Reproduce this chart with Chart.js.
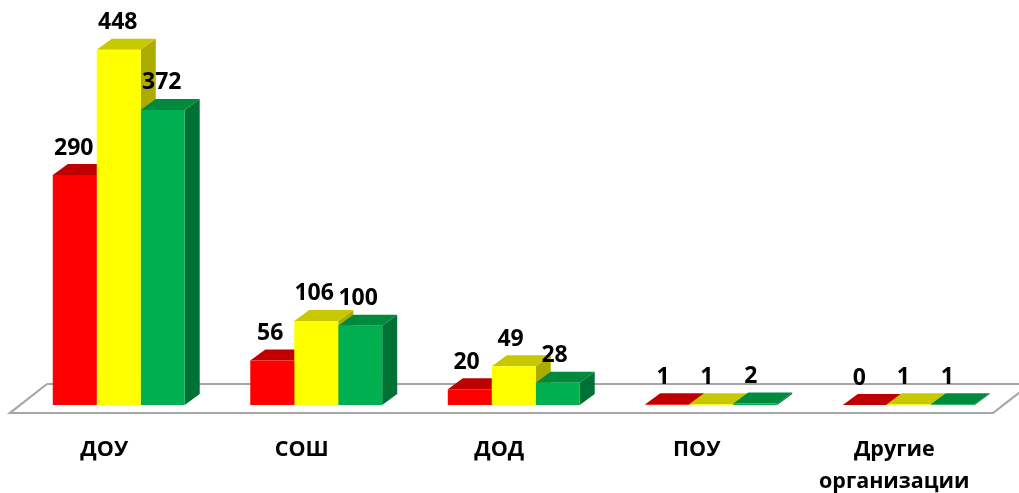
<!DOCTYPE html>
<html><head><meta charset="utf-8">
<style>html,body{margin:0;padding:0;background:#fff}#w{width:1019px;height:493px}</style>
<script src="https://cdn.jsdelivr.net/npm/chart.js@4"></script>
</head><body><div id="w"><canvas id="c"></canvas></div>
<script>
const categories = ['ДОУ','СОШ','ДОД','ПОУ',['Другие','организации']];
const seriesRed = [290,56,20,1,0];
const seriesYellow = [448,106,49,1,1];
const seriesGreen = [372,100,28,2,1];
const FONT = '"Open Sans", Lato, sans-serif';
const DX = 15, DY = 11;
const shades = [
 {front:'#FF0000', top:'#C00000', side:'#A00000'},
 {front:'#FFFF00', top:'#C8C800', side:'#ABAB00'},
 {front:'#00B050', top:'#008A3E', side:'#007134'}
];
function poly(ctx, pts, fill){
  ctx.beginPath(); pts.forEach((p,i)=> i?ctx.lineTo(p[0],p[1]):ctx.moveTo(p[0],p[1])); ctx.closePath();
  ctx.fillStyle = fill; ctx.fill();
}
const bars3d = {
  id:'bars3d',
  beforeDatasetsDraw(chart){
    const ctx = chart.ctx, a = chart.chartArea;
    ctx.save();
    ctx.strokeStyle = '#A6A6A6'; ctx.lineWidth = 2.2; ctx.lineJoin = 'miter';
    ctx.beginPath();
    ctx.moveTo(a.left+27, a.bottom-21);
    ctx.lineTo(a.left-10, a.bottom+8);
    ctx.lineTo(a.right-14.5, a.bottom+8);
    ctx.lineTo(a.right+23, a.bottom-21);
    ctx.lineTo(a.left+27, a.bottom-21);
    ctx.stroke();
    chart.data.datasets.forEach((ds,i)=>{
      const s = shades[i];
      chart.getDatasetMeta(i).data.forEach(b=>{
        const l = b.x-b.width/2, r = b.x+b.width/2, t = b.y, base = b.base;
        poly(ctx, [[r,base],[r+DX,base-DY],[r+DX,t-DY],[r,t]], s.side);
        poly(ctx, [[l,t],[r,t],[r+DX,t-DY],[l+DX,t-DY]], s.top);
      });
    });
    ctx.restore();
  },
  afterDatasetsDraw(chart){
    const ctx = chart.ctx;
    ctx.save();
    ctx.font = 'bold 23px '+FONT; ctx.fillStyle = '#000';
    ctx.textAlign = 'center'; ctx.textBaseline = 'middle';
    chart.data.datasets.forEach((ds,i)=>{
      chart.getDatasetMeta(i).data.forEach((b,j)=>{
        ctx.fillText(String(ds.data[j]), b.x-1-j*1.1, b.y-27);
      });
    });
    ctx.restore();
  }
};
new Chart(document.getElementById('c'),{
  type:'bar',
  data:{labels:categories,datasets:[
    {label:'Red',data:seriesRed,backgroundColor:shades[0].front},
    {label:'Yellow',data:seriesYellow,backgroundColor:shades[1].front},
    {label:'Green',data:seriesGreen,backgroundColor:shades[2].front}
  ]},
  options:{
    responsive:true,maintainAspectRatio:false,animation:false,
    layout:{padding:{left:20,right:11.5,top:0.5,bottom:0}},
    datasets:{bar:{categoryPercentage:0.668,barPercentage:1,borderWidth:0}},
    plugins:{legend:{display:false},tooltip:{enabled:false}},
    scales:{
      y:{display:false,min:0,max:510},
      x:{
        afterFit(s){s.height=88;},
        grid:{display:false,drawBorder:false},
        border:{display:false},
        ticks:{color:'#000',font:{family:FONT,weight:'bold',size:21.5,lineHeight:1.49},padding:21,labelOffset:-14.5,maxRotation:0,minRotation:0,autoSkip:false}
      }
    }
  },
  plugins:[bars3d]
});
</script></body></html>
